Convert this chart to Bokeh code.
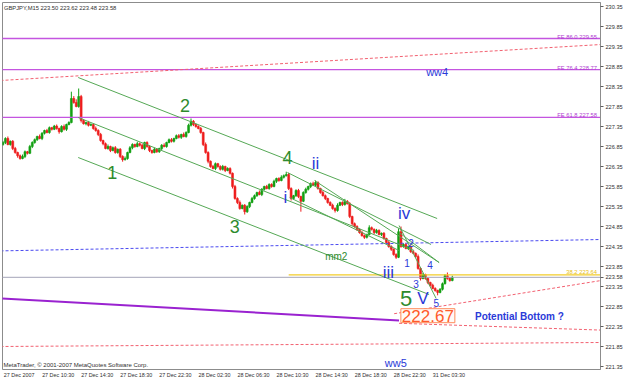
from bokeh.plotting import figure
from bokeh.models import ColumnDataSource, Range1d, FixedTicker, PrintfTickFormatter, Label
from bokeh.core.properties import value
from bokeh.embed import file_html
from bokeh.resources import INLINE

# ---------------- data ----------------
SYMBOL_TEXT = "GBPJPY,M15  223.50 223.62 223.48 223.58"
COPYRIGHT = "MetaTrader, \u00a9 2001-2007 MetaQuotes Software Corp."

FIRST_OPEN = 226.90
CLOSE = [
    226.95, 227.05, 226.90, 226.98, 226.80, 226.70, 226.62, 226.55, 226.60, 226.72,
    226.68, 226.85, 226.95, 227.02, 227.10, 227.05, 227.18, 227.25, 227.20, 227.32,
    227.28, 227.36, 227.30, 227.22, 227.35, 227.28, 227.40, 227.45, 228.05, 227.95,
    227.85, 228.10, 227.50, 227.42, 227.45, 227.38, 227.40, 227.30, 227.25, 227.15,
    227.00, 226.92, 226.80, 226.85, 226.75, 226.82, 226.70, 226.78, 226.60, 226.52,
    226.55, 226.70, 226.82, 226.90, 226.85, 226.92, 226.88, 226.80, 226.95, 226.85,
    226.75, 226.70, 226.78, 226.72, 226.80, 226.88, 226.85, 226.95, 227.02, 226.98,
    227.05, 227.12, 227.08, 227.15, 227.10, 227.20, 227.38, 227.48, 227.40, 227.35,
    227.30, 227.20, 226.90, 226.70, 226.48, 226.35, 226.30, 226.42, 226.35, 226.28,
    226.35, 226.25, 226.30, 226.18, 225.85, 225.55, 225.45, 225.30, 225.38, 225.22,
    225.35, 225.45, 225.55, 225.62, 225.70, 225.65, 225.78, 225.85, 225.80, 225.90,
    225.85, 225.98, 226.05, 226.00, 226.08, 226.12, 226.15, 225.80, 225.55, 225.62,
    225.75, 225.60, 225.48, 225.70, 225.78, 225.85, 225.92, 225.88, 225.95, 225.80,
    225.70, 225.62, 225.55, 225.45, 225.38, 225.30, 225.25, 225.38, 225.45, 225.40,
    225.48, 225.42, 225.10, 224.92, 224.85, 224.78, 224.70, 224.62, 224.58, 224.65,
    224.82, 224.78, 224.70, 224.75, 224.65, 224.68, 224.55, 224.45, 224.35, 224.28,
    224.15, 224.08, 224.72, 224.35, 224.40, 224.30, 224.35, 224.22, 224.18, 224.10,
    223.80, 223.55, 223.65, 223.55, 223.45, 223.38, 223.30, 223.25, 223.20, 223.28,
    223.42, 223.62, 223.55, 223.50, 223.58,
]
# wick lengths in hundredths of a yen
UPPER_WICK = [
    4, 3, 5, 2, 3, 4, 2, 3, 5, 3,  2, 4, 3, 3, 2, 5, 3, 2, 4, 3,
    2, 3, 4, 2, 3, 5, 2, 3, 17, 6,  8, 20, 4, 3, 2, 4, 3, 2, 5, 3,
    4, 2, 3, 5, 2, 3, 4, 2, 3, 3,  5, 2, 4, 3, 2, 5, 3, 4, 2, 3,
    3, 2, 4, 3, 2, 3, 5, 2, 3, 4,  2, 3, 4, 2, 5, 3, 4, 7, 3, 2,
    3, 4, 2, 5, 3, 2, 4, 3, 2, 3,  4, 2, 3, 3, 2, 4, 3, 5, 2, 3,
    3, 2, 4, 3, 2, 5, 3, 2, 4, 3,  3, 4, 2, 3, 5, 3, 7, 4, 3, 2,
    3, 4, 2, 3, 4, 2, 3, 5, 5, 3,  2, 4, 3, 2, 3, 4, 3, 5, 2, 3,
    6, 3, 4, 2, 3, 3, 2, 4, 3, 2,  6, 3, 2, 4, 3, 2, 3, 2, 4, 3,
    2, 3, 8, 13, 3, 4, 2, 3, 3, 2,  5, 3, 4, 2, 3, 2, 4, 3, 2, 3,
    3, 4, 8, 3, 4,
]
LOWER_WICK = [
    3, 4, 2, 3, 4, 3, 5, 3, 2, 4,  3, 2, 4, 3, 3, 2, 4, 3, 2, 3,
    3, 2, 3, 5, 2, 3, 4, 2, 2, 3,  2, 3, 5, 2, 4, 3, 2, 3, 3, 4,
    3, 4, 2, 3, 4, 2, 3, 3, 4, 5,  2, 3, 2, 4, 3, 2, 3, 2, 4, 3,
    4, 3, 2, 3, 3, 4, 2, 3, 2, 3,  3, 2, 3, 4, 2, 3, 2, 3, 4, 3,
    2, 3, 4, 3, 5, 3, 2, 4, 3, 3,  3, 4, 2, 3, 5, 3, 4, 3, 2, 7,
    3, 4, 2, 3, 3, 2, 4, 3, 2, 3,  3, 2, 4, 3, 2, 3, 2, 4, 5, 3,
    3, 4, 26, 2, 3, 3, 4, 2, 3, 3,  3, 2, 4, 3, 2, 3, 5, 3, 2, 4,
    3, 2, 4, 5, 3, 4, 3, 2, 4, 3,  2, 3, 4, 3, 2, 4, 3, 2, 3, 4,
    3, 4, 2, 3, 3, 2, 4, 3, 2, 3,  3, 5, 2, 3, 4, 3, 2, 3, 7, 2,
    3, 2, 3, 3, 2,
]

TIME_TICK_BARS = [0, 16, 32, 48, 64, 80, 96, 112, 128, 144, 160, 176]
TIME_TICK_LABELS = ["27 Dec 2007", "27 Dec 10:30", "27 Dec 14:30", "27 Dec 18:30",
                    "27 Dec 22:30", "28 Dec 02:30", "28 Dec 06:30", "28 Dec 10:30",
                    "28 Dec 14:30", "28 Dec 18:30", "28 Dec 22:30", "31 Dec 03:30"]
PRICE_TICKS = [221.35, 221.85, 222.35, 222.85, 223.35, 223.85, 224.35, 224.85, 225.35,
               225.85, 226.35, 226.85, 227.35, 227.85, 228.35, 228.85, 229.35, 229.85, 230.35]
LAST_PRICE = 223.58

FE_LABELS = ["FE 61.8  227.58", "FE 76.4  228.77", "FE 86.0  229.55"]
FE_PRICES = [227.58, 228.77, 229.55]
FIB_LABEL = "38.2  223.64"
FIB_PRICE = 223.64
FIB_START_BAR = 117

# trend lines (bar index, price)
RED_X0 = [-1, 160.2, 162.2, -1]
RED_Y0 = [228.50, 222.67, 222.43, 221.85]
RED_X1 = [245, 245, 245, 245]
RED_Y1 = [229.40, 223.50, 222.26, 221.95]
BLUE_X = [-1, 245]
BLUE_Y = [224.24, 224.525]
PURPLE_X = [-1, 162.2]
PURPLE_Y = [223.05, 222.50]
GREEN_X0 = [30.8, 30.8, 30.8, 116.5, 117.4, 127.6, 162.2, 162.2]
GREEN_Y0 = [228.575, 227.575, 226.575, 226.20, 225.575, 226.00, 224.875, 224.70]
GREEN_X1 = [177.8, 168.4, 174.5, 175.3, 162.2, 178.6, 177.4, 178.6]
GREEN_Y1 = [225.05, 224.25, 223.15, 224.40, 224.25, 223.95, 223.05, 223.95]

# wave labels
BIG_GREEN_TEXT = ["1", "2", "3", "4"]
BIG_GREEN_BAR = [44.7, 74.5, 94.9, 116.5]
BIG_GREEN_PRICE = [226.20, 227.875, 224.85, 226.575]
FIVE_TEXT = "5"
FIVE_BAR = 165.1
FIVE_PRICE = 223.05
BLUE_WAVE_TEXT = ["i", "ii", "iii", "iv", "V"]
BLUE_WAVE_BAR = [115.7, 128.0, 157.8, 164.3, 172.0]
BLUE_WAVE_PRICE = [225.575, 226.425, 223.70, 225.175, 223.05]
SUB_TEXT = ["1", "2", "3", "4", "5"]
SUB_BAR = [165.5, 167.1, 169.2, 174.9, 177.4]
SUB_PRICE = [223.95, 224.45, 223.425, 223.90, 222.95]
MM_TEXT = "mm2"
MM_BAR = 136.5
MM_PRICE = 224.10
WW_TEXT = ["ww4", "ww5"]
WW_BAR = [177.8, 160.9]
WW_PRICE = [228.725, 221.45]
TARGET_TEXT = "222.67"
TARGET_BAR = 174.0
TARGET_PRICE = 222.62
NOTE_TEXT = "Potential Bottom  ?"
NOTE_BAR = 193.3
NOTE_PRICE = 222.60

# ---------------- build ----------------
FONT = "Liberation Sans"
UP, DOWN = "#12a012", "#ee1c1c"
GREEN_T, BLUE_T = "#2e8b2e", "#2a3ad8"
LABEL_SHIFT = 6.6   # time labels start at their bar (MetaTrader style)

opens = [FIRST_OPEN] + CLOSE[:-1]
highs = [max(o, c) + u / 100 for o, c, u in zip(opens, CLOSE, UPPER_WICK)]
lows = [min(o, c) - l / 100 for o, c, l in zip(opens, CLOSE, LOWER_WICK)]
cols = [UP if c >= o else DOWN for o, c in zip(opens, CLOSE)]
src = ColumnDataSource(dict(
    x=list(range(len(CLOSE))), open=opens, close=CLOSE, high=highs, low=lows,
    top=[max(o, c) for o, c in zip(opens, CLOSE)],
    bottom=[min(o, c) for o, c in zip(opens, CLOSE)], color=cols))

p = figure(width=625, height=380, x_range=Range1d(-0.2, 244.7), y_range=Range1d(221.275, 230.45),
           output_backend="svg", toolbar_location=None, y_axis_location="right",
           min_border_left=2, min_border_right=22, min_border_top=2, min_border_bottom=10,
           background_fill_color="white", border_fill_color="white",
           outline_line_color="#8c8c8c")
p.grid.visible = False

ya = p.yaxis[0]
ya.ticker = FixedTicker(ticks=PRICE_TICKS + [LAST_PRICE])
ya.formatter = PrintfTickFormatter(format="%.2f")
ya.major_label_text_font = FONT
ya.major_label_text_font_size = "5.6px"
ya.major_label_text_color = "#303030"
ya.major_tick_out = 3
ya.major_tick_in = 0
ya.minor_tick_out = 0
ya.minor_tick_in = 0
ya.major_label_standoff = 2
ya.axis_line_color = "#8c8c8c"
ya.major_tick_line_color = "#606060"

label_pos = [b + LABEL_SHIFT for b in TIME_TICK_BARS]
xa = p.xaxis[0]
xa.ticker = FixedTicker(ticks=label_pos)
xa.major_label_overrides = dict(zip(label_pos, TIME_TICK_LABELS))
xa.axis_line_color = None
xa.major_tick_line_color = None
xa.minor_tick_line_color = None
xa.major_tick_out = 0
xa.major_tick_in = 0
xa.minor_tick_out = 0
xa.minor_tick_in = 0
xa.major_label_standoff = 2
xa.major_label_text_font = FONT
xa.major_label_text_font_size = "5.4px"
xa.major_label_text_color = "#303030"

# candles
p.segment(x0="x", y0="low", x1="x", y1="high", line_color="color", line_width=1, source=src)
p.vbar(x="x", top="top", bottom="bottom", width=0.78, fill_color="color",
       line_color="color", line_width=0.6, source=src)

# horizontal levels
for pr in FE_PRICES:
    p.segment(x0=-1, y0=pr, x1=245, y1=pr, line_color="#c455e0", line_width=1.3)
p.text(x=[243.9] * 3, y=FE_PRICES, text=FE_LABELS, text_align="right", text_baseline="bottom",
       y_offset=1, text_font=value(FONT), text_font_size="5.8px", text_color="#b040d0")
p.segment(x0=-1, y0=LAST_PRICE, x1=245, y1=LAST_PRICE, line_color="#a4a4b8", line_width=1)
p.segment(x0=FIB_START_BAR, y0=FIB_PRICE, x1=245, y1=FIB_PRICE, line_color="#f2cc2a", line_width=1.2)
p.text(x=[243.9], y=[FIB_PRICE], text=[FIB_LABEL], text_align="right", text_baseline="bottom",
       text_font=value(FONT), text_font_size="5.8px", text_color="#e8be10")

# dotted trendlines
p.segment(x0=RED_X0, y0=RED_Y0, x1=RED_X1, y1=RED_Y1, line_color="#f26070",
          line_width=1, line_dash="3 2")
p.line(BLUE_X, BLUE_Y, line_color="#4a4af0", line_width=1, line_dash="3 2")
p.line(PURPLE_X, PURPLE_Y, line_color="#9a22d0", line_width=2)

# green wave channels
p.segment(x0=GREEN_X0, y0=GREEN_Y0, x1=GREEN_X1, y1=GREEN_Y1, line_color="#55a855", line_width=1)

# wave labels
p.text(x=BIG_GREEN_BAR, y=BIG_GREEN_PRICE, text=BIG_GREEN_TEXT, text_align="center",
       text_baseline="middle", text_font=value(FONT), text_font_size="18px", text_color=GREEN_T)
p.text(x=[FIVE_BAR], y=[FIVE_PRICE], text=[FIVE_TEXT], text_align="center",
       text_baseline="middle", text_font=value(FONT), text_font_size="22px", text_color=GREEN_T)
p.text(x=BLUE_WAVE_BAR, y=BLUE_WAVE_PRICE, text=BLUE_WAVE_TEXT, text_align="center",
       text_baseline="middle", text_font=value(FONT), text_font_size="17px", text_color=BLUE_T)
p.text(x=SUB_BAR, y=SUB_PRICE, text=SUB_TEXT, text_align="center",
       text_baseline="middle", text_font=value(FONT), text_font_size="10px", text_color=BLUE_T)
p.text(x=[MM_BAR], y=[MM_PRICE], text=[MM_TEXT], text_align="center",
       text_baseline="middle", text_font=value(FONT), text_font_size="10px", text_color=GREEN_T)
p.text(x=WW_BAR, y=WW_PRICE, text=WW_TEXT, text_align="center",
       text_baseline="middle", text_font=value(FONT), text_font_size="11px", text_color=BLUE_T)
p.text(x=[NOTE_BAR], y=[NOTE_PRICE], text=[NOTE_TEXT], text_align="left",
       text_baseline="middle", text_font=value(FONT), text_font_size="10px",
       text_font_style="bold", text_color=BLUE_T)

p.add_layout(Label(x=TARGET_BAR, y=TARGET_PRICE, text=TARGET_TEXT, text_align="center",
                   text_baseline="middle", text_font=FONT, text_font_size="17px",
                   text_color="#ff5a2a", background_fill_color="#fffaf6",
                   border_line_color="#ff8a5a", border_line_width=1, padding=1))

# header / footer text
p.add_layout(Label(x=0.4, y=230.32, text=SYMBOL_TEXT, text_align="left", text_baseline="middle",
                   text_font=FONT, text_font_size="5.8px", text_color="#303030"))
p.add_layout(Label(x=0.2, y=221.40, text=COPYRIGHT, text_align="left", text_baseline="middle",
                   text_font=FONT, text_font_size="6px", text_color="#303030"))

open("out.html", "w").write(file_html(p, INLINE))
